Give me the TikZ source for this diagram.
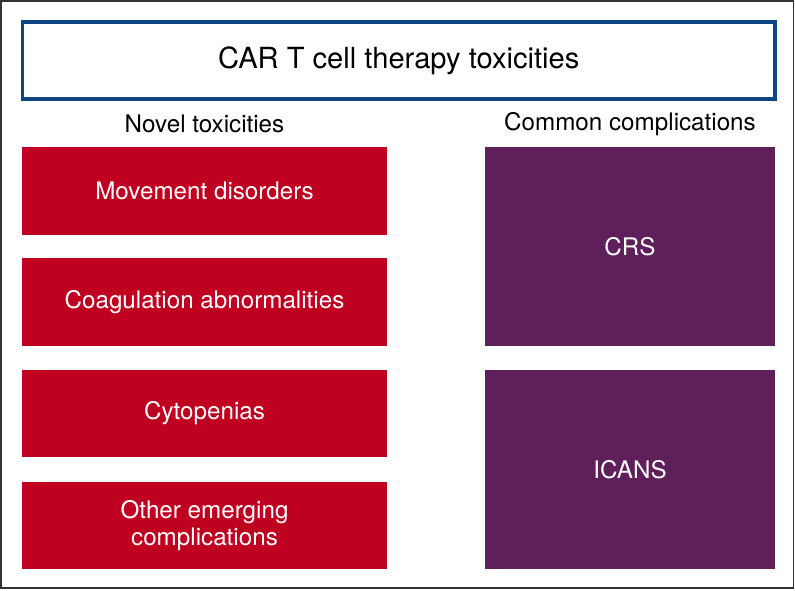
\documentclass[tikz,border=0pt]{standalone}
\usepackage{fontspec}
\setmainfont{TeX Gyre Heros}
\definecolor{carred}{HTML}{BF0020}
\definecolor{carpurple}{HTML}{5F1F5B}
\definecolor{carblue}{HTML}{0D4585}
\definecolor{frame}{HTML}{333333}
\begin{document}
\begin{tikzpicture}[x=1pt,y=-1pt,
  redbox/.style={fill=carred,draw=none,minimum width=365pt,inner sep=0pt,text=white,font=\fontsize{24.2}{27}\selectfont,align=center},
  purplebox/.style={fill=carpurple,draw=none,minimum width=290pt,minimum height=199pt,inner sep=0pt,text=white,font=\fontsize{24.2}{27}\selectfont},
  header/.style={inner sep=0pt,font=\fontsize{24.2}{27}\selectfont},
  titlebox/.style={draw=carblue,line width=3.5pt,minimum width=752.5pt,minimum height=77pt,inner sep=0pt,font=\fontsize{29.1}{30}\selectfont}]
\useasboundingbox (0,0) rectangle (795,590);
\draw[frame,line width=1.5pt] (1,1) rectangle (793.5,588);
\node[titlebox] (title) at (398.75,60.5) {CAR T cell therapy toxicities};
\node[header] (novel) at (204.5,124) {Novel toxicities};
\node[header] (common) at (630,124) {Common complications};
\node[redbox,minimum height=88pt] (mov) at (204.5,191) {Movement disorders};
\node[redbox,minimum height=88pt] (coag) at (204.5,302) {Coagulation abnormalities};
\node[redbox,minimum height=87pt] (cyto) at (204.5,413.5) {Cytopenias};
\node[redbox,minimum height=87pt] (other) at (204.5,525.5) {Other emerging\\complications};
\node[purplebox] (crs) at (630,246.5) {CRS};
\node[purplebox] (icans) at (630,469.5) {ICANS};
\end{tikzpicture}
\end{document}
